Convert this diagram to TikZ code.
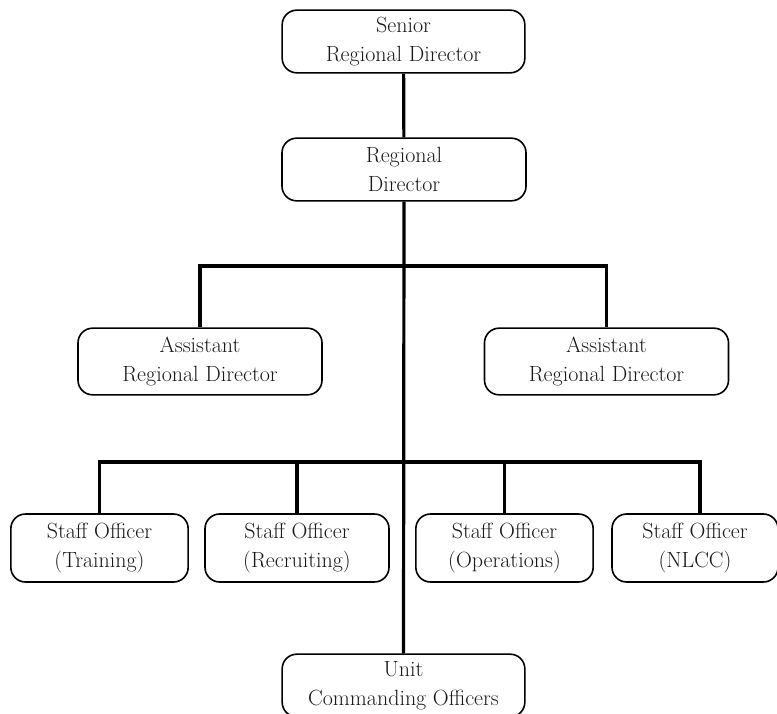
\documentclass[tikz,border=0pt]{standalone}
\begin{document}
\begin{tikzpicture}[x=0.75pt,y=-0.75pt,
    post/.style={draw,rounded corners=11pt,line width=1.2pt,align=center,
      text=black!90,font=\fontsize{16.5}{22}\selectfont,inner sep=0pt},
    link/.style={line width=2.4pt}]
  \useasboundingbox (0,0) rectangle (777,713);
  % boxes
  \node[post,minimum width=182pt,minimum height=47pt] (senior) at (403.5,41.5) {Senior\\Regional Director};
  \node[post,minimum width=183pt,minimum height=47pt] (rd) at (404,169.5) {Regional\\Director};
  \node[post,minimum width=183pt,minimum height=50pt] (ardl) at (200,361.5) {Assistant\\Regional Director};
  \node[post,minimum width=183pt,minimum height=50pt] (ardr) at (606.5,361.5) {Assistant\\Regional Director};
  \node[post,minimum width=133pt,minimum height=51pt] (sot) at (99.5,548) {Staff Officer\\(Training)};
  \node[post,minimum width=138pt,minimum height=51pt] (sor) at (297,548) {Staff Officer\\(Recruiting)};
  \node[post,minimum width=133pt,minimum height=51pt] (soo) at (504.5,548) {Staff Officer\\(Operations)};
  \node[post,minimum width=124.5pt,minimum height=51pt] (son) at (695,548) {Staff Officer\\(NLCC)};
  \node[post,minimum width=182pt,minimum height=47pt] (unit) at (403.5,685.5) {Unit\\Commanding Officers};
  \coordinate (bus1) at (403.5,266);
  \coordinate (bus2) at (403.5,462);
  \coordinate (drop) at (700,462);
  % connectors
  \begin{scope}[link]
    \draw (senior) -- (rd);
    \draw (rd.south) -- (unit.north);
    \draw (ardl.north) |- (bus1) -| (ardr.north);
    \draw (sot.north) |- (bus2) -- (drop) -- (drop |- son.north);
    \draw (sor.north) -- (sor.north |- bus2);
    \draw (soo.north) -- (soo.north |- bus2);
  \end{scope}
\end{tikzpicture}
\end{document}
